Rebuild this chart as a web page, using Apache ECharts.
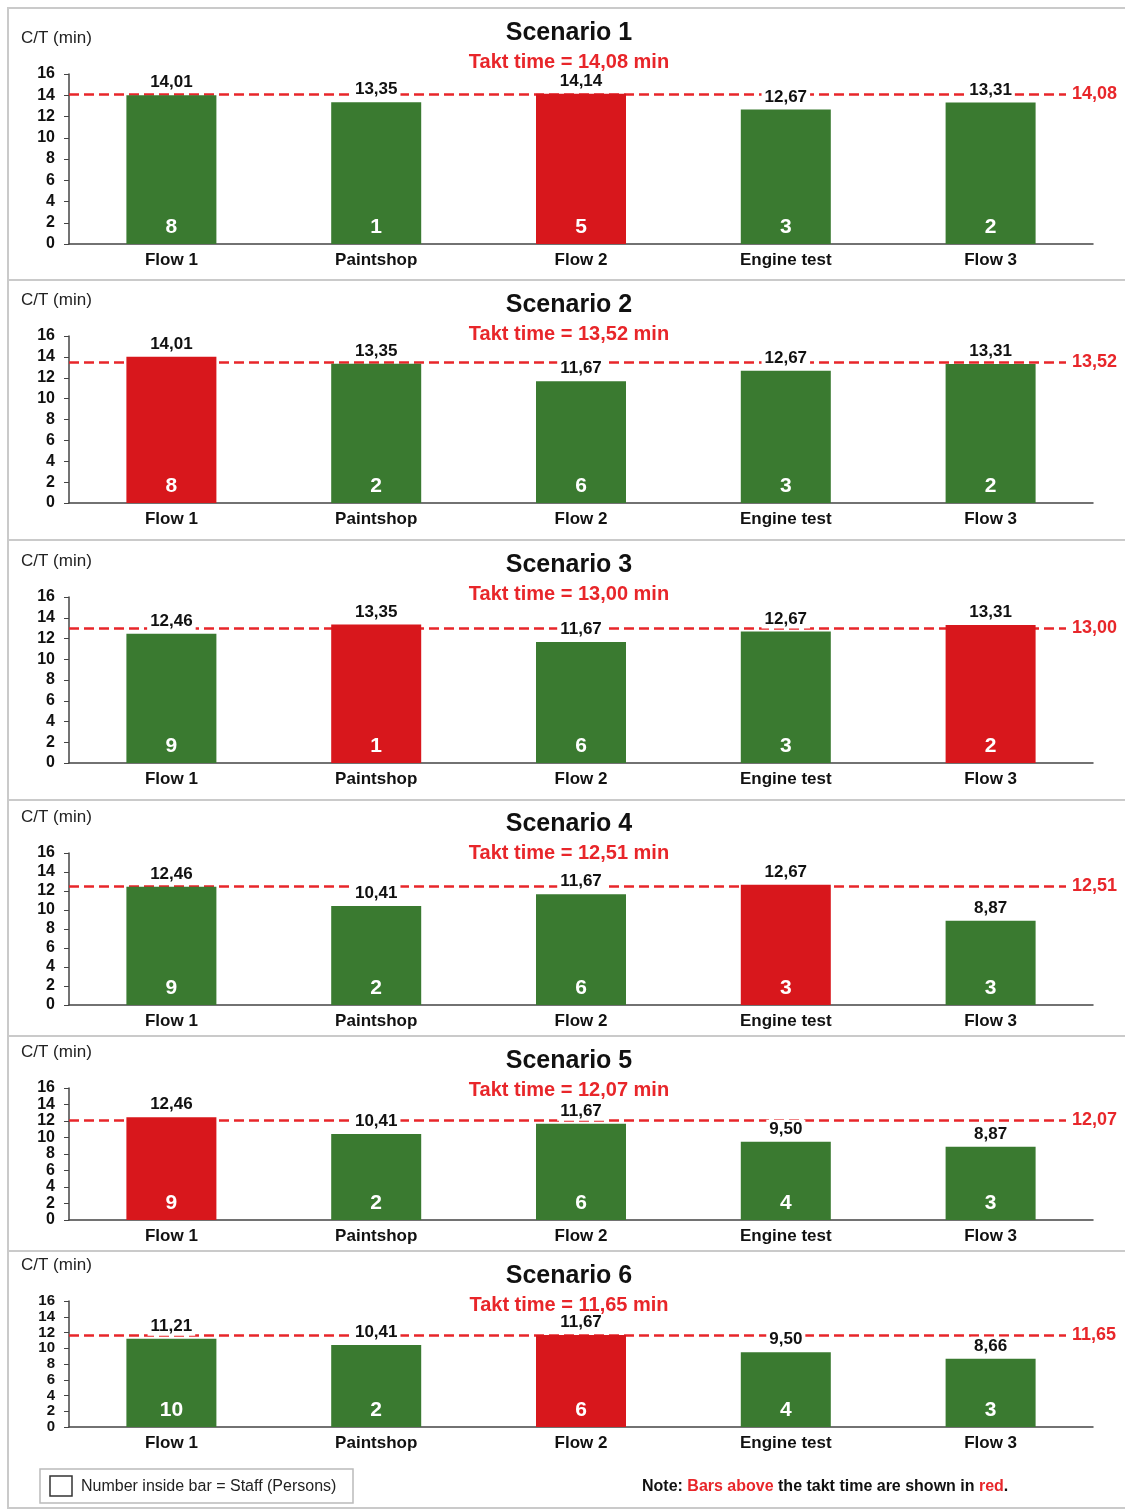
<!DOCTYPE html>
<html>
<head>
<meta charset="utf-8">
<script src="https://cdn.jsdelivr.net/npm/echarts@6/dist/echarts.min.js"></script>
<style>
  html, body { margin: 0; padding: 0; background: #fff; }
  #main { width: 1125px; height: 1510px; }
</style>
</head>
<body>
<div id="main"></div>
<script>
// 类别
var categories = ['Flow 1', 'Paintshop', 'Flow 2', 'Engine test', 'Flow 3'];
var scenarioNames = ['Scenario 1', 'Scenario 2', 'Scenario 3', 'Scenario 4', 'Scenario 5', 'Scenario 6'];
// 节拍时间
var taktTimes = [14.08, 13.52, 13.00, 12.51, 12.07, 11.65];
// 每个场景的 C/T (min)
var cycleTimes = [
    [14.01, 13.35, 14.14, 12.67, 13.31],
    [14.01, 13.35, 11.67, 12.67, 13.31],
    [12.46, 13.35, 11.67, 12.67, 13.31],
    [12.46, 10.41, 11.67, 12.67, 8.87],
    [12.46, 10.41, 11.67, 9.50, 8.87],
    [11.21, 10.41, 11.67, 9.50, 8.66]
];
// 柱子里面的人数
var staff = [
    [8, 1, 5, 3, 2],
    [8, 2, 6, 3, 2],
    [9, 1, 6, 3, 2],
    [9, 2, 6, 3, 3],
    [9, 2, 6, 4, 3],
    [10, 2, 6, 4, 3]
];
var yTicks = [0, 2, 4, 6, 8, 10, 12, 14, 16];

// 布局
var panelTop = [8, 280, 540, 800, 1036, 1251];
var panelBottom = [280, 540, 800, 1036, 1251, 1508];
var gridTop = [74, 336, 597, 853, 1088, 1301];
var gridBottom = [244, 503, 763, 1005, 1220, 1427];
var titleTop = [21, 293, 553, 812, 1049, 1264];

var FONT = '"Liberation Sans", Arial, sans-serif';
var GREEN = '#3a7a30';
var RED = '#d8171c';
var LINE_RED = '#e8262a';

function fmt(v) {
    return v.toFixed(2).replace('.', ',');
}

var grids = [], xAxes = [], yAxes = [], series = [], titles = [], graphics = [];

for (var i = 0; i < 6; i++) {
    var h = gridBottom[i] - gridTop[i];
    grids.push({
        left: 69,
        width: 1024,
        top: gridTop[i],
        height: h
    });
    xAxes.push({
        type: 'category',
        gridIndex: i,
        data: categories,
        axisLine: { lineStyle: { color: '#444', width: 1.5 } },
        axisTick: { show: false },
        axisLabel: { color: '#111', fontSize: 17, fontWeight: 'bold', fontFamily: FONT, margin: 8 }
    });
    yAxes.push({
        type: 'value',
        gridIndex: i,
        min: yTicks[0],
        max: yTicks[yTicks.length - 1],
        interval: 2,
        splitLine: { show: false },
        axisLine: { show: true, lineStyle: { color: '#444', width: 1.5 } },
        axisTick: { show: true, length: 5, lineStyle: { color: '#444' } },
        axisLabel: {
            color: '#111',
            // 面板太矮时字号缩小一点, 否则标签会被隐藏
            fontSize: h / 8 < 16.5 ? 15 : 16,
            fontWeight: 'bold', fontFamily: FONT, margin: 14,
            showMinLabel: true, showMaxLabel: true, hideOverlap: false
        }
    });

    var takt = taktTimes[i];
    var barData = cycleTimes[i].map(function (v, k) {
        return {
            value: v,
            staff: staff[i][k],
            itemStyle: { color: v > takt ? RED : GREEN }
        };
    });

    // 彩色柱子 + 人数
    series.push({
        type: 'bar',
        xAxisIndex: i,
        yAxisIndex: i,
        barWidth: 90,
        data: barData,
        z: 3,
        label: {
            show: true,
            position: 'insideBottom',
            distance: 6,
            color: '#fff',
            fontSize: 21,
            fontWeight: 'bold',
            fontFamily: FONT,
            formatter: function (p) { return p.data.staff; }
        }
    });
    // 数值标签 + 节拍线
    series.push({
        type: 'bar',
        xAxisIndex: i,
        yAxisIndex: i,
        barWidth: 90,
        barGap: '-100%',
        data: cycleTimes[i],
        z: 4,
        itemStyle: { color: 'rgba(0,0,0,0)' },
        label: {
            show: true,
            position: 'top',
            distance: 3,
            color: '#111',
            fontSize: 17,
            fontWeight: 'bold',
            fontFamily: FONT,
            backgroundColor: '#fff',
            padding: [1, 3],
            formatter: function (p) { return fmt(p.value); }
        },
        markLine: {
            z: 1,
            silent: true,
            symbol: ['none', 'none'],
            lineStyle: { color: LINE_RED, type: [10, 5], width: 2.5 },
            label: {
                show: true,
                position: 'end',
                distance: 6,
                color: LINE_RED,
                fontSize: 18,
                fontWeight: 'bold',
                fontFamily: FONT,
                formatter: fmt(takt)
            },
            data: [[
                { xAxis: 0, yAxis: takt, x: 69 },
                { xAxis: 4, yAxis: takt, x: 1066 }
            ]]
        }
    });

    titles.push({
        text: scenarioNames[i],
        subtext: 'Takt time = ' + fmt(takt) + ' min',
        left: 569,
        top: titleTop[i],
        textAlign: 'center',
        itemGap: 6,
        padding: 0,
        textStyle: { color: '#111', fontSize: 25, fontWeight: 'bold', fontFamily: FONT },
        subtextStyle: { color: LINE_RED, fontSize: 20, fontWeight: 'bold', fontFamily: FONT }
    });

    // 面板边框
    graphics.push({
        type: 'rect',
        silent: true,
        z: -1,
        shape: { x: 8, y: panelTop[i], width: 1130, height: panelBottom[i] - panelTop[i] },
        style: { fill: null, stroke: '#cacaca', lineWidth: 2 }
    });
    graphics.push({
        type: 'text',
        left: 21,
        top: gridTop[i] - 44,
        style: { text: 'C/T (min)', fill: '#222', font: '17px ' + FONT }
    });
}

// 图例说明
graphics.push({
    type: 'rect',
    shape: { x: 40, y: 1469, width: 313, height: 34 },
    style: { fill: '#fff', stroke: '#bbb', lineWidth: 1.5 }
});
graphics.push({
    type: 'rect',
    shape: { x: 50, y: 1476, width: 22, height: 20 },
    style: { fill: '#fff', stroke: '#333', lineWidth: 1.5 }
});
graphics.push({
    type: 'text',
    left: 81,
    top: 1479,
    style: { text: 'Number inside bar = Staff (Persons)', fill: '#222', font: '16px ' + FONT }
});
graphics.push({
    type: 'text',
    left: 642,
    top: 1479,
    style: {
        text: '{b|Note: }{r|Bars above}{b| the takt time are shown in }{r|red}{b|.}',
        rich: {
            b: { fill: '#111', fontSize: 16, fontWeight: 'bold', fontFamily: FONT },
            r: { fill: LINE_RED, fontSize: 16, fontWeight: 'bold', fontFamily: FONT }
        }
    }
});

var chart = echarts.init(document.getElementById('main'));
chart.setOption({
    backgroundColor: '#fff',
    animation: false,
    title: titles,
    grid: grids,
    xAxis: xAxes,
    yAxis: yAxes,
    series: series,
    graphic: graphics
});
</script>
</body>
</html>
